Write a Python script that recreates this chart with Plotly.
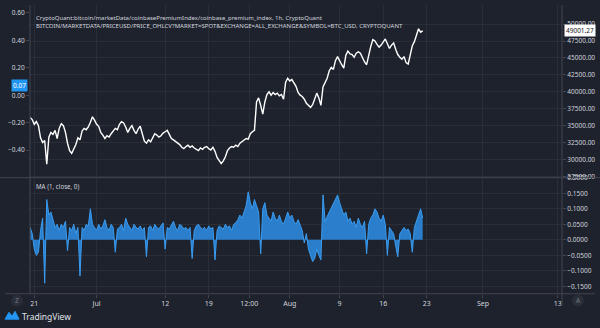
import pandas as pd
import plotly.graph_objects as go

W, H = 600, 328
BG = "#1e222d"
GRID = "#2a2e39"
AXL = "#434651"
TXT = "#d1d4dc"

# ---- data (8-hour samples) ----
start_time = "2021-06-20 08:00"
step = "8h"

btc_price = [
    36200, 35900, 35200, 35600, 35000, 33200, 32500, 32800, 29300, 33300,
    34000, 33700, 34300, 33100, 34600, 35300, 35000, 34000, 32400, 31300,
    30900, 31600, 32200, 33200, 32900, 34200, 34600, 34400, 34800, 35500,
    36300, 35800, 35200, 34900, 34000, 33600, 33100, 33500, 33300, 33800,
    34300, 34600, 34400, 35200, 35600, 35400, 34800, 34000, 34600, 35000,
    34300, 33800, 34500, 34900, 33800, 32700, 32400, 32900, 32600, 33300,
    33800, 33600, 33300, 33500, 33900, 34100, 34300, 33700, 33100, 32900,
    32700, 32400, 32200, 31800, 31600, 31900, 32100, 31800, 32000, 31700,
    31500, 31300, 31700, 31500, 31800, 31900, 31600, 31400, 31800, 31200,
    30300, 29900, 29400, 29800, 30400, 31300, 31700, 31900, 31800, 32100,
    31900, 32400, 32600, 32800, 33100, 33000, 33800, 34100, 34300, 38500,
    39100, 38000, 36700, 38500, 39600, 40000, 39500, 39900, 39600, 39800,
    39400, 39600, 38900, 41400, 42000, 41600, 41800, 41300, 40800, 39900,
    39500, 39300, 38900, 38300, 38000, 37700, 38100, 39100, 39800, 39100,
    38000, 40700, 41300, 42000, 43100, 43600, 43300, 44600, 45200, 44500,
    44000, 43500, 45400, 46000, 45600, 45500, 45100, 45700, 45900, 45700,
    45000, 44400, 44000, 45500, 46700, 47700, 47500, 47000, 46600, 46900,
    47300, 47800, 47100, 46400, 46900, 47200, 46300, 45500, 45100, 44800,
    45200, 44300, 44100, 45700, 46800, 47400, 48300, 49300, 48800, 49001.27,
]

premium_index = [
    0.040, 0.020, -0.030, -0.050, -0.040, 0.030, 0.070, -0.140, 0.130, 0.080,
    0.090, 0.060, 0.040, 0.050, 0.030, 0.050, 0.040, 0.060, -0.035, 0.040,
    0.030, 0.050, 0.020, 0.040, -0.117, 0.040, 0.030, 0.050, 0.045, 0.100,
    0.050, 0.040, 0.030, 0.050, 0.035, 0.045, 0.065, 0.040, 0.030, 0.050,
    0.040, -0.040, 0.035, 0.040, 0.050, 0.030, 0.070, 0.050, 0.040, 0.030,
    0.050, 0.040, 0.035, 0.045, 0.030, 0.040, -0.055, 0.040, 0.045, 0.030,
    0.050, 0.040, 0.035, 0.045, 0.055, -0.030, 0.040, 0.035, 0.050, 0.060,
    0.040, 0.030, 0.050, 0.045, 0.035, 0.040, 0.030, 0.040, -0.060, 0.030,
    0.045, 0.050, 0.040, 0.035, 0.040, 0.030, 0.045, 0.035, 0.040, -0.065,
    0.030, 0.045, 0.040, 0.035, 0.050, 0.040, 0.045, 0.030, 0.050, 0.055,
    0.065, 0.080, 0.070, 0.090, 0.110, 0.155, 0.120, 0.100, 0.130, 0.110,
    0.090, -0.045, 0.100, 0.120, 0.080, 0.070, 0.060, 0.090, 0.070, 0.060,
    0.080, 0.060, 0.050, 0.070, 0.090, 0.070, 0.080, 0.060, 0.050, 0.065,
    0.050, 0.030, -0.010, 0.020, -0.030, -0.050, -0.070, -0.060, -0.030, -0.050,
    -0.065, 0.145, 0.060, 0.075, 0.090, 0.100, 0.120, 0.130, 0.145, 0.120,
    0.100, 0.080, 0.090, 0.060, 0.070, 0.050, 0.060, 0.040, 0.070, 0.050,
    0.040, 0.060, -0.045, 0.050, 0.070, 0.080, 0.100, 0.090, 0.070, 0.060,
    0.080, 0.050, -0.050, 0.040, 0.030, 0.020, -0.020, -0.055, 0.020, 0.030,
    0.040, 0.030, 0.035, 0.020, -0.040, 0.040, 0.060, 0.075, 0.100, 0.070,
]

time_index = pd.date_range(start_time, periods=len(btc_price), freq=step)

x_tick_vals = ["2021-06-21", "2021-07-01", "2021-07-12", "2021-07-19", "2021-07-25 12:00",
               "2021-08-01", "2021-08-09", "2021-08-16", "2021-08-23", "2021-09-01", "2021-09-13"]
x_tick_text = ["21", "Jul", "12", "19", "12:00", "Aug", "9", "16", "23", "Sep", "13"]

price_ticks = [27500, 30000, 32500, 35000, 37500, 40000, 42500, 45000, 47500, 50000]
price_tick_text = [f"{v:.2f}" for v in price_ticks]

left_ticks = [-0.4, -0.2, 0.0, 0.2, 0.4, 0.6]
left_tick_text = ["\u22120.40", "\u22120.20", "0.00", "0.20", "0.40", "0.60"]

ma_ticks = [-0.15, -0.10, -0.05, 0.0, 0.05, 0.10, 0.15, 0.20]
ma_tick_text = ["\u22120.1500", "\u22120.1000", "\u22120.0500", "0.0000", "0.0500", "0.1000", "0.1500", "0.2000"]

title1 = "CryptoQuant:bitcoin/marketData/coinbasePremiumIndex/coinbase_premium_index, 1h, CryptoQuant"
title2 = "BITCOIN/MARKETDATA/PRICEUSD/PRICE_OHLCV?MARKET=SPOT&EXCHANGE=ALL_EXCHANGE&SYMBOL=BTC_USD, CRYPTOQUANT"

# ---- layout helpers (pixel -> paper) ----
def px(x):
    return x / W

def py(y):
    return 1 - y / H

X0, X1 = 30, 562
Y_MAIN_TOP, Y_SEP, Y_BOT = 0, 177, 296

fig = go.Figure()

fig.add_trace(go.Scatter(x=time_index, y=btc_price, xaxis="x2", yaxis="y",
                         mode="lines", line=dict(color="#ffffff", width=1.4),
                         hoverinfo="skip", showlegend=False))
fig.add_trace(go.Scatter(x=time_index, y=premium_index, xaxis="x2", yaxis="y2",
                         mode="lines", line=dict(width=0), opacity=0,
                         hoverinfo="skip", showlegend=False))
fig.add_trace(go.Scatter(x=time_index, y=premium_index, xaxis="x", yaxis="y3",
                         mode="lines", fill="tozeroy",
                         line=dict(color="#3a9cf0", width=1),
                         fillcolor="#2a7ecb", hoverinfo="skip", showlegend=False))

x_range = ["2021-06-20 07:26", "2021-09-13 16:34"]
numfont = dict(family="Noto Sans", size=6.5, color=TXT)
xfont = dict(family="Noto Sans", size=7, color=TXT)

fig.update_layout(
    width=W, height=H, margin=dict(l=0, r=0, t=0, b=0),
    paper_bgcolor=BG, plot_bgcolor=BG, showlegend=False,
    xaxis=dict(domain=[px(X0), px(X1)], anchor="y3", range=x_range, type="date",
               tickvals=x_tick_vals, ticktext=x_tick_text, tickfont=xfont,
               showgrid=True, gridcolor=GRID, gridwidth=1, zeroline=False,
               ticks="outside", ticklen=3, tickcolor=AXL, showline=False),
    xaxis2=dict(domain=[px(X0), px(X1)], anchor="y", matches="x", type="date",
                tickvals=x_tick_vals, showticklabels=False,
                showgrid=True, gridcolor=GRID, zeroline=False, showline=False),
    yaxis=dict(domain=[py(Y_SEP), py(Y_MAIN_TOP)], anchor="x2", side="right",
               range=[27310, 52820], tickvals=price_ticks, ticktext=price_tick_text,
               tickfont=numfont, showgrid=True, gridcolor=GRID, zeroline=False,
               ticks="outside", ticklen=3, tickcolor=AXL, showline=False),
    yaxis2=dict(anchor="x2", overlaying="y", side="left", range=[-0.6, 0.657],
                tickvals=left_ticks, ticktext=left_tick_text, tickfont=numfont,
                showgrid=False, zeroline=False, ticks="outside", ticklen=3,
                tickcolor=AXL, showline=False),
    yaxis3=dict(domain=[py(Y_BOT), py(Y_SEP)], anchor="x", side="right",
                range=[-0.174, 0.2005], tickvals=ma_ticks, ticktext=ma_tick_text,
                tickfont=numfont, showgrid=True, gridcolor=GRID, zeroline=False,
                ticks="outside", ticklen=3, tickcolor=AXL, showline=False),
)

shapes = []
shapes.append(dict(type="line", xref="paper", yref="paper", x0=0, x1=1,
                   y0=py(Y_SEP), y1=py(Y_SEP), line=dict(color=AXL, width=1)))
shapes.append(dict(type="line", xref="paper", yref="paper", x0=px(5), x1=px(595),
                   y0=py(Y_BOT), y1=py(Y_BOT), line=dict(color=AXL, width=1)))
shapes.append(dict(type="line", xref="paper", yref="paper", x0=px(X0), x1=px(X0),
                   y0=py(Y_BOT), y1=1, line=dict(color=AXL, width=1)))
shapes.append(dict(type="line", xref="paper", yref="paper", x0=px(X1), x1=px(X1),
                   y0=py(308), y1=1, line=dict(color=AXL, width=1)))
for cx in (17, 578):
    shapes.append(dict(type="circle", xref="paper", yref="paper",
                       x0=px(cx - 6), x1=px(cx + 6), y0=py(309), y1=py(297),
                       fillcolor="#2a2e39", line=dict(width=0)))
logo = "M {a},{b} L {c},{d} L {e},{f} L {g},{h} L {i},{j} Z".format(
    a=px(5), b=py(322), c=px(9), d=py(315), e=px(12), f=py(319),
    g=px(15), h=py(314), i=px(19), j=py(322))
shapes.append(dict(type="path", xref="paper", yref="paper", path=logo,
                   fillcolor="#2196f3", line=dict(color="#2196f3", width=1)))
fig.update_layout(shapes=shapes)

small = dict(family="Noto Sans", size=6, color=TXT)
ann = [
    dict(text=title1, x=px(34), y=py(13), xanchor="left", yanchor="middle", font=small),
    dict(text=title2, x=px(34), y=py(22), xanchor="left", yanchor="middle", font=small),
    dict(text="MA (1, close, 0)", x=px(34), y=py(186), xanchor="left", yanchor="middle",
         font=dict(family="Noto Sans", size=6.2, color=TXT)),
    dict(text="Z", x=px(17), y=py(303), xanchor="center", yanchor="middle",
         font=dict(family="Noto Sans", size=6.5, color="#787b86")),
    dict(text="A", x=px(578), y=py(303), xanchor="center", yanchor="middle",
         font=dict(family="Noto Sans", size=6.5, color="#787b86")),
    dict(text="TradingView", x=px(20), y=py(319), xanchor="left", yanchor="middle",
         font=dict(family="Noto Sans", size=8.5, color="#e0e3eb")),
]
for a in ann:
    a.update(xref="paper", yref="paper", showarrow=False)

ann.append(dict(text="0.07", xref="paper", yref="y2", x=px(28), y=premium_index[-1],
                xanchor="right", yanchor="middle", showarrow=False,
                bgcolor="#2196f3", borderpad=1,
                font=dict(family="Noto Sans", size=6.5, color="#ffffff")))
ann.append(dict(text=f"{btc_price[-1]:.2f}", xref="paper", yref="y", x=px(564), y=btc_price[-1],
                xanchor="left", yanchor="middle", showarrow=False,
                bgcolor="#ffffff", borderpad=1,
                font=dict(family="Noto Sans", size=6.5, color="#131722")))
fig.update_layout(annotations=ann)

fig.write_html("out.html")
